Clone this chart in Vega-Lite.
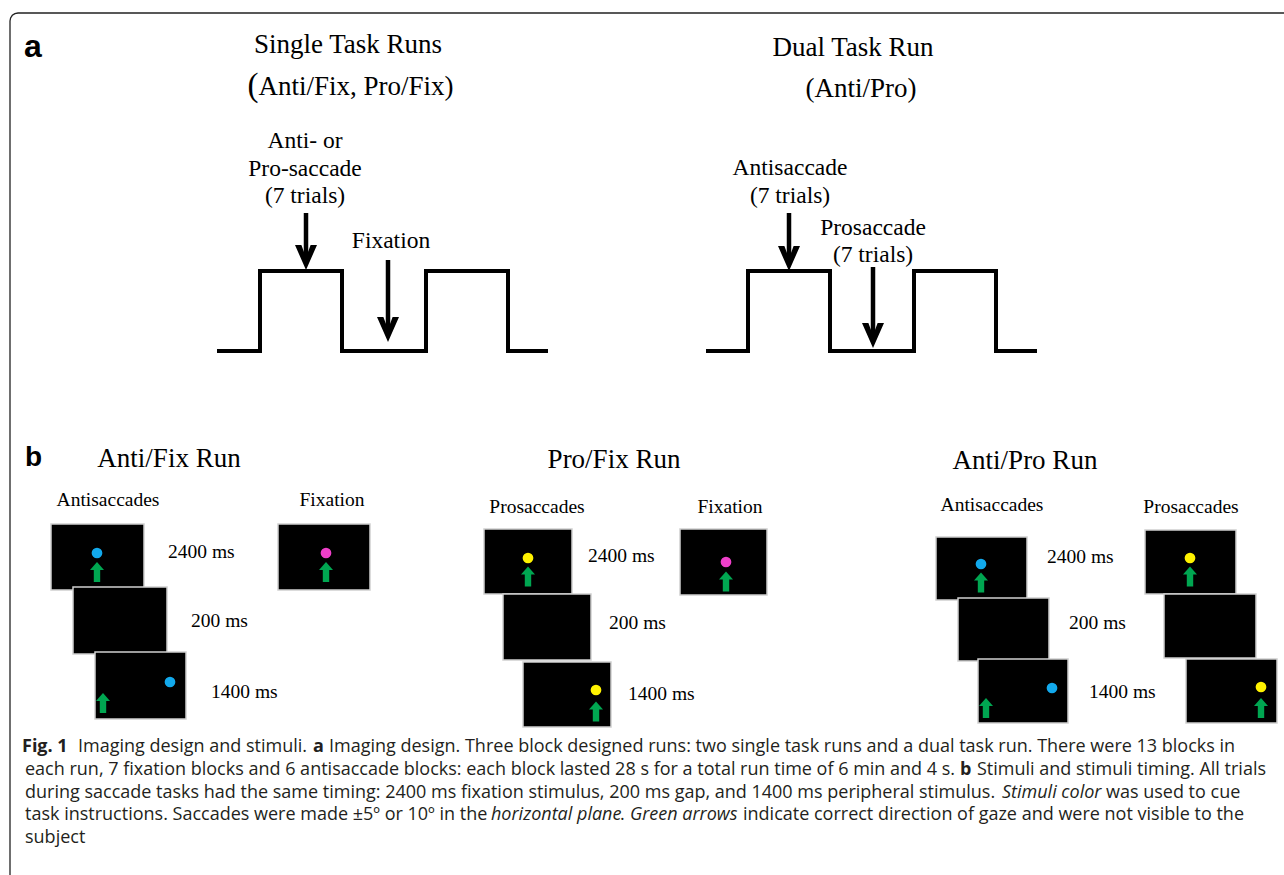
{
  "$schema": "https://vega.github.io/schema/vega-lite/v6.json",
  "width": 1284,
  "height": 875,
  "autosize": {"type": "none"},
  "padding": 0,
  "background": "white",
  "config": {"view": {"stroke": null}},
  "datasets": {
    "border": [
      {"i": 0, "x": 10, "y": 875}, {"i": 1, "x": 10, "y": 21}, {"i": 2, "x": 10.6, "y": 17.9},
      {"i": 3, "x": 12.3, "y": 15.3}, {"i": 4, "x": 14.9, "y": 13.6}, {"i": 5, "x": 18, "y": 13},
      {"i": 6, "x": 1284, "y": 13}
    ],
    "steps": [
      {"run": "single", "i": 0, "x": 217, "y": 351}, {"run": "single", "i": 1, "x": 260, "y": 351},
      {"run": "single", "i": 2, "x": 260, "y": 271}, {"run": "single", "i": 3, "x": 342, "y": 271},
      {"run": "single", "i": 4, "x": 342, "y": 351}, {"run": "single", "i": 5, "x": 426, "y": 351},
      {"run": "single", "i": 6, "x": 426, "y": 271}, {"run": "single", "i": 7, "x": 508, "y": 271},
      {"run": "single", "i": 8, "x": 508, "y": 351}, {"run": "single", "i": 9, "x": 548, "y": 351},
      {"run": "dual", "i": 0, "x": 706, "y": 351}, {"run": "dual", "i": 1, "x": 748, "y": 351},
      {"run": "dual", "i": 2, "x": 748, "y": 271}, {"run": "dual", "i": 3, "x": 830, "y": 271},
      {"run": "dual", "i": 4, "x": 830, "y": 351}, {"run": "dual", "i": 5, "x": 914, "y": 351},
      {"run": "dual", "i": 6, "x": 914, "y": 271}, {"run": "dual", "i": 7, "x": 996, "y": 271},
      {"run": "dual", "i": 8, "x": 996, "y": 351}, {"run": "dual", "i": 9, "x": 1037, "y": 351}
    ],
    "arrows": [
      {"block": "task", "x": 306, "y": 213, "tip": 270},
      {"block": "fixation", "x": 388, "y": 260, "tip": 342},
      {"block": "anti", "x": 789, "y": 213, "tip": 271},
      {"block": "pro", "x": 873, "y": 267, "tip": 348}
    ],
    "screens": [
      {"run": "Anti/Fix", "x": 51, "x2": 144, "y": 524, "y2": 590},
      {"run": "Anti/Fix", "x": 73, "x2": 167, "y": 587, "y2": 654},
      {"run": "Anti/Fix", "x": 95, "x2": 186, "y": 652, "y2": 719},
      {"run": "Anti/Fix", "x": 278, "x2": 370, "y": 524, "y2": 590},
      {"run": "Pro/Fix", "x": 484, "x2": 572, "y": 529, "y2": 594},
      {"run": "Pro/Fix", "x": 503, "x2": 591, "y": 594, "y2": 660},
      {"run": "Pro/Fix", "x": 523, "x2": 611, "y": 662, "y2": 727},
      {"run": "Pro/Fix", "x": 680, "x2": 767, "y": 529, "y2": 595},
      {"run": "Anti/Pro", "x": 936, "x2": 1027, "y": 537, "y2": 600},
      {"run": "Anti/Pro", "x": 958, "x2": 1049, "y": 598, "y2": 661},
      {"run": "Anti/Pro", "x": 978, "x2": 1068, "y": 659, "y2": 723},
      {"run": "Anti/Pro", "x": 1145, "x2": 1236, "y": 530, "y2": 594},
      {"run": "Anti/Pro", "x": 1164, "x2": 1256, "y": 594, "y2": 658},
      {"run": "Anti/Pro", "x": 1186, "x2": 1277, "y": 659, "y2": 723}
    ],
    "dots": [
      {"cue": "anti", "x": 97, "y": 553}, {"cue": "fix", "x": 326, "y": 553}, {"cue": "anti", "x": 170, "y": 682},
      {"cue": "pro", "x": 528, "y": 558}, {"cue": "fix", "x": 726, "y": 562}, {"cue": "pro", "x": 596, "y": 690},
      {"cue": "anti", "x": 981, "y": 564}, {"cue": "anti", "x": 1052, "y": 688},
      {"cue": "pro", "x": 1190, "y": 558}, {"cue": "pro", "x": 1261, "y": 687}
    ],
    "gaze": [
      {"x": 97, "y": 572}, {"x": 326, "y": 572}, {"x": 103, "y": 703},
      {"x": 528, "y": 576.5}, {"x": 726, "y": 581.5}, {"x": 596, "y": 711.5},
      {"x": 981, "y": 582.5}, {"x": 986, "y": 708}, {"x": 1190, "y": 576.5}, {"x": 1261, "y": 708}
    ],
    "texts": [
      {"kind": "letterA", "x": 24, "y": 57, "text": "a"},
      {"kind": "letterB", "x": 25, "y": 466, "text": "b"},
      {"kind": "title", "x": 348, "y": 53, "text": "Single Task Runs"},
      {"kind": "title", "x": 356, "y": 95, "text": "Anti/Fix, Pro/Fix)"},
      {"kind": "paren", "x": 253, "y": 96, "text": "("},
      {"kind": "title", "x": 853, "y": 56, "text": "Dual Task Run"},
      {"kind": "title", "x": 861, "y": 97, "text": "(Anti/Pro)"},
      {"kind": "label", "x": 305, "y": 148, "text": "Anti- or"},
      {"kind": "label", "x": 305, "y": 176, "text": "Pro-saccade"},
      {"kind": "label", "x": 305, "y": 203, "text": "(7 trials)"},
      {"kind": "label", "x": 391, "y": 248, "text": "Fixation"},
      {"kind": "label", "x": 790, "y": 175, "text": "Antisaccade"},
      {"kind": "label", "x": 790, "y": 203, "text": "(7 trials)"},
      {"kind": "label", "x": 873, "y": 235, "text": "Prosaccade"},
      {"kind": "label", "x": 873, "y": 262, "text": "(7 trials)"},
      {"kind": "title", "x": 169, "y": 467, "text": "Anti/Fix Run"},
      {"kind": "title", "x": 614, "y": 468, "text": "Pro/Fix Run"},
      {"kind": "title", "x": 1025, "y": 469, "text": "Anti/Pro Run"},
      {"kind": "sub", "x": 108, "y": 506, "text": "Antisaccades"},
      {"kind": "sub", "x": 332, "y": 506, "text": "Fixation"},
      {"kind": "sub", "x": 537, "y": 513, "text": "Prosaccades"},
      {"kind": "sub", "x": 730, "y": 513, "text": "Fixation"},
      {"kind": "sub", "x": 992, "y": 511, "text": "Antisaccades"},
      {"kind": "sub", "x": 1191, "y": 513, "text": "Prosaccades"},
      {"kind": "time", "x": 168, "y": 558, "text": "2400 ms"},
      {"kind": "time", "x": 191, "y": 627, "text": "200 ms"},
      {"kind": "time", "x": 211, "y": 698, "text": "1400 ms"},
      {"kind": "time", "x": 588, "y": 562, "text": "2400 ms"},
      {"kind": "time", "x": 609, "y": 629, "text": "200 ms"},
      {"kind": "time", "x": 628, "y": 700, "text": "1400 ms"},
      {"kind": "time", "x": 1047, "y": 563, "text": "2400 ms"},
      {"kind": "time", "x": 1069, "y": 629, "text": "200 ms"},
      {"kind": "time", "x": 1089, "y": 698, "text": "1400 ms"}
    ],
    "caption": [
      {"style": "bold", "x": 22, "y": 752, "text": "Fig. 1"},
      {"style": "regular", "x": 78, "y": 752, "text": "Imaging design and stimuli."},
      {"style": "bold", "x": 313, "y": 752, "text": "a"},
      {"style": "regular", "x": 329, "y": 752, "text": "Imaging design. Three block designed runs: two single task runs and a dual task run. There were 13 blocks in"},
      {"style": "regular", "x": 25, "y": 775, "text": "each run, 7 fixation blocks and 6 antisaccade blocks: each block lasted 28 s for a total run time of 6 min and 4 s."},
      {"style": "bold", "x": 960, "y": 775, "text": "b"},
      {"style": "regular", "x": 977, "y": 775, "text": "Stimuli and stimuli timing. All trials"},
      {"style": "regular", "x": 25, "y": 798, "text": "during saccade tasks had the same timing: 2400 ms fixation stimulus, 200 ms gap, and 1400 ms peripheral stimulus."},
      {"style": "italic", "x": 1002, "y": 798, "text": "Stimuli color"},
      {"style": "regular", "x": 1106, "y": 798, "text": "was used to cue"},
      {"style": "regular", "x": 25, "y": 820, "text": "task instructions. Saccades were made ±5º or 10º in the"},
      {"style": "italic", "x": 491, "y": 820, "text": "horizontal plane"},
      {"style": "regular", "x": 620, "y": 820, "text": "."},
      {"style": "italic", "x": 630, "y": 820, "text": "Green arrows"},
      {"style": "regular", "x": 743, "y": 820, "text": "indicate correct direction of gaze and were not visible to the"},
      {"style": "regular", "x": 25, "y": 843, "text": "subject"}
    ]
  },
  "encoding": {
    "x": {"field": "x", "type": "quantitative", "scale": {"domain": [0, 1284], "nice": false, "zero": false}, "axis": null},
    "y": {"field": "y", "type": "quantitative", "scale": {"domain": [0, 875], "nice": false, "zero": false, "reverse": true}, "axis": null}
  },
  "layer": [
    {
      "data": {"name": "border"},
      "mark": {"type": "line", "stroke": "#222222", "strokeWidth": 1.3},
      "encoding": {"order": {"field": "i", "type": "quantitative"}}
    },
    {
      "data": {"name": "steps"},
      "mark": {"type": "line", "stroke": "black", "strokeWidth": 4, "strokeJoin": "miter"},
      "encoding": {"detail": {"field": "run"}, "order": {"field": "i", "type": "quantitative"}}
    },
    {
      "data": {"name": "arrows"},
      "mark": {"type": "rule", "stroke": "black", "strokeWidth": 4.5, "y2Offset": -8},
      "encoding": {"y2": {"field": "tip"}}
    },
    {
      "data": {"name": "arrows"},
      "mark": {"type": "point", "filled": true, "color": "black", "opacity": 1, "size": 484, "strokeWidth": 0,
        "shape": "M0,0 L-1,-2.27 L-0.42,-2.27 L0,-1.15 L0.42,-2.27 L1,-2.27 Z"},
      "encoding": {"y": {"field": "tip", "type": "quantitative", "scale": {"domain": [0, 875], "nice": false, "zero": false, "reverse": true}, "axis": null}}
    },
    {
      "data": {"name": "screens"},
      "mark": {"type": "rect", "fill": "black", "stroke": "#d0d0d0", "strokeWidth": 1.5},
      "encoding": {"x2": {"field": "x2"}, "y2": {"field": "y2"}}
    },
    {
      "data": {"name": "dots"},
      "mark": {"type": "point", "filled": true, "shape": "circle", "size": 115, "opacity": 1, "strokeWidth": 0},
      "encoding": {
        "color": {"field": "cue", "type": "nominal", "legend": null,
          "scale": {"domain": ["anti", "pro", "fix"], "range": ["#12a9ec", "#fff200", "#ee3fc9"]}}
      }
    },
    {
      "data": {"name": "gaze"},
      "mark": {"type": "point", "filled": true, "color": "#00a651", "opacity": 1, "size": 400, "strokeWidth": 0,
        "shape": "M0,-1 L0.7,-0.2 L0.32,-0.2 L0.32,1 L-0.32,1 L-0.32,-0.2 L-0.7,-0.2 Z"}
    },
    {
      "data": {"name": "texts"},
      "transform": [{"filter": "datum.kind === 'letterA'"}],
      "mark": {"type": "text", "font": "Liberation Sans", "fontWeight": "bold", "fontSize": 32, "align": "left", "baseline": "alphabetic", "color": "black"},
      "encoding": {"text": {"field": "text"}}
    },
    {
      "data": {"name": "texts"},
      "transform": [{"filter": "datum.kind === 'letterB'"}],
      "mark": {"type": "text", "font": "Liberation Sans", "fontWeight": "bold", "fontSize": 28, "align": "left", "baseline": "alphabetic", "color": "black"},
      "encoding": {"text": {"field": "text"}}
    },
    {
      "data": {"name": "texts"},
      "transform": [{"filter": "datum.kind === 'title'"}],
      "mark": {"type": "text", "font": "Liberation Serif", "fontSize": 27, "align": "center", "baseline": "alphabetic", "color": "black"},
      "encoding": {"text": {"field": "text"}}
    },
    {
      "data": {"name": "texts"},
      "transform": [{"filter": "datum.kind === 'paren'"}],
      "mark": {"type": "text", "font": "Liberation Serif", "fontSize": 33, "align": "center", "baseline": "alphabetic", "color": "black"},
      "encoding": {"text": {"field": "text"}}
    },
    {
      "data": {"name": "texts"},
      "transform": [{"filter": "datum.kind === 'label'"}],
      "mark": {"type": "text", "font": "Liberation Serif", "fontSize": 23.5, "align": "center", "baseline": "alphabetic", "color": "black"},
      "encoding": {"text": {"field": "text"}}
    },
    {
      "data": {"name": "texts"},
      "transform": [{"filter": "datum.kind === 'sub'"}],
      "mark": {"type": "text", "font": "Liberation Serif", "fontSize": 19.5, "align": "center", "baseline": "alphabetic", "color": "black"},
      "encoding": {"text": {"field": "text"}}
    },
    {
      "data": {"name": "texts"},
      "transform": [{"filter": "datum.kind === 'time'"}],
      "mark": {"type": "text", "font": "Liberation Serif", "fontSize": 19.5, "align": "left", "baseline": "alphabetic", "color": "black"},
      "encoding": {"text": {"field": "text"}}
    },
    {
      "data": {"name": "caption"},
      "transform": [{"filter": "datum.style === 'regular'"}],
      "mark": {"type": "text", "font": "Open Sans", "fontSize": 18, "align": "left", "baseline": "alphabetic", "color": "#231f20"},
      "encoding": {"text": {"field": "text"}}
    },
    {
      "data": {"name": "caption"},
      "transform": [{"filter": "datum.style === 'bold'"}],
      "mark": {"type": "text", "font": "Open Sans", "fontWeight": "bold", "fontSize": 18, "align": "left", "baseline": "alphabetic", "color": "#231f20"},
      "encoding": {"text": {"field": "text"}}
    },
    {
      "data": {"name": "caption"},
      "transform": [{"filter": "datum.style === 'italic'"}],
      "mark": {"type": "text", "font": "Open Sans", "fontStyle": "italic", "fontSize": 18, "align": "left", "baseline": "alphabetic", "color": "#231f20"},
      "encoding": {"text": {"field": "text"}}
    }
  ]
}
